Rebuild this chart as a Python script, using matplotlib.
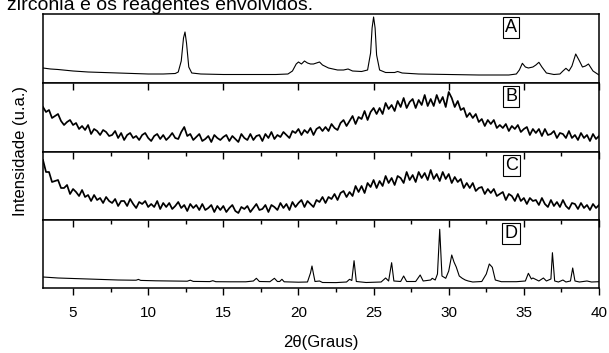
import numpy as np
import matplotlib.pyplot as plt
from matplotlib.ticker import MultipleLocator

plt.rcParams['font.family'] = ['Liberation Sans', 'DejaVu Sans']

# --- data (intensity in arbitrary units) ---
a_2theta = [3.0, 3.5, 4.0, 5.0, 6.0, 7.0, 8.0, 9.0, 10.0, 11.0, 11.8, 12.0, 12.2, 12.35,
            12.45, 12.55, 12.7, 12.9, 13.5, 15.0, 17.0, 18.5, 19.3, 19.6, 19.85, 20.0,
            20.2, 20.4, 20.6, 20.8, 21.0, 21.2, 21.4, 21.6, 22.0, 22.6, 23.0, 23.3, 23.6,
            24.2, 24.6, 24.8, 24.9, 25.0, 25.1, 25.2, 25.4, 25.8, 26.4, 26.6, 26.9, 28.0,
            30.0, 32.0, 34.0, 34.5, 34.7, 34.9, 35.1, 35.3, 35.6, 35.8, 36.0, 36.2, 36.5,
            37.0, 37.4, 37.6, 37.8, 38.0, 38.2, 38.45, 38.7, 38.9, 39.1, 39.3, 39.6, 40.0]
a_int = [15, 14, 13.5, 12, 11, 10.5, 10, 9.5, 9, 9, 9.5, 11, 22, 45,
         51, 40, 16, 10, 9, 8.5, 8.5, 8.5, 9, 12, 19, 21,
         19, 22, 20, 19, 19, 20, 21, 18, 15, 13, 13, 14, 12,
         11.5, 13, 30, 55, 66, 55, 28, 13, 10.5, 10.5, 11.5, 10, 9,
         8.5, 8, 8, 9, 13, 19.7, 16, 15, 16, 18, 20.7, 16, 10,
         8.5, 9, 12, 14.7, 12, 17, 29, 22, 16, 17, 19, 12, 8]

# B and C: sampled every 0.2 degree from 3 to 40
b_int = [45, 40, 42, 34, 36, 38, 31, 27, 30, 32, 27, 29, 23, 26, 22, 27, 18, 23, 21, 17,
         22, 20, 16, 17, 21, 14, 19, 12, 17, 19, 14, 16, 12, 17, 19, 14, 11, 16, 18, 13,
         17, 12, 15, 19, 14, 13, 20, 25, 16, 18, 12, 15, 18, 11, 13, 16, 10, 17, 14, 12,
         15, 17, 11, 16, 13, 10, 18, 14, 12, 18, 12, 16, 17, 11, 18, 14, 20, 13, 17, 15,
         20, 17, 14, 21, 19, 23, 17, 22, 19, 24, 17, 23, 25, 21, 25, 21, 28, 24, 22, 29,
         32, 26, 31, 36, 28, 35, 33, 41, 32, 40, 44, 38, 44, 38, 49, 43, 47, 41, 51, 45,
         54, 44, 50, 53, 44, 52, 47, 57, 46, 53, 46, 57, 49, 55, 45, 60, 54, 45, 51, 42,
         44, 35, 39, 34, 38, 30, 33, 26, 32, 28, 32, 24, 27, 24, 28, 21, 26, 23, 27, 20,
         23, 25, 17, 23, 19, 23, 16, 23, 17, 18, 21, 14, 19, 18, 14, 21, 14, 17, 12, 19,
         14, 17, 11, 18, 13, 16]
c_int = [60, 48, 48, 38, 39, 40, 32, 32, 35, 26, 31, 28, 24, 30, 23, 25, 19, 25, 20, 22,
         17, 23, 19, 17, 21, 14, 19, 19, 14, 21, 16, 12, 18, 16, 19, 13, 16, 13, 19, 11,
         17, 13, 17, 11, 14, 18, 12, 15, 9, 16, 12, 15, 10, 16, 10, 12, 15, 8, 14, 10,
         14, 8, 12, 15, 9, 7, 13, 11, 14, 8, 12, 16, 10, 11, 15, 8, 15, 13, 10, 17,
         12, 16, 10, 18, 13, 17, 20, 13, 19, 16, 13, 20, 18, 23, 17, 23, 21, 26, 20, 27,
         29, 23, 28, 24, 34, 28, 34, 27, 37, 33, 40, 32, 39, 34, 44, 37, 42, 35, 44, 42,
         37, 48, 40, 45, 38, 48, 42, 47, 40, 50, 41, 46, 39, 48, 41, 46, 37, 43, 38, 41,
         32, 37, 32, 37, 29, 32, 33, 26, 31, 27, 31, 24, 26, 28, 20, 26, 24, 19, 26, 19,
         22, 16, 22, 19, 20, 15, 22, 16, 13, 20, 14, 18, 13, 20, 14, 11, 17, 16, 11, 17,
         12, 15, 10, 16, 12, 15]

d_2theta = [3.0, 4.0, 5.0, 6.0, 7.0, 8.0, 9.0, 9.2, 9.35, 9.5, 10.5, 11.5, 12.6, 12.8,
            13.0, 14.1, 14.3, 14.5, 15.5, 16.5, 17.0, 17.2, 17.4, 18.1, 18.4, 18.6, 18.75,
            18.9, 19.05, 20.0, 20.6, 20.8, 20.9, 21.0, 21.1, 21.4, 21.6, 22.5, 23.2, 23.4,
            23.55, 23.7, 23.85, 24.5, 25.5, 25.8, 26.0, 26.2, 26.35, 26.8, 27.0, 27.2, 27.8,
            28.1, 28.3, 28.8, 28.9, 29.1, 29.25, 29.4, 29.55, 29.8, 30.0, 30.2, 30.35, 30.5,
            30.7, 30.9, 31.1, 31.3, 31.6, 32.2, 32.5, 32.7, 32.9, 33.1, 33.5, 34.5, 35.1,
            35.3, 35.5, 35.6, 36.0, 36.3, 36.5, 36.8, 36.9, 37.05, 37.3, 37.6, 37.8, 38.1,
            38.25, 38.4, 38.7, 39.2, 39.5, 40.0]
d_int = [11, 10, 9.5, 9, 8.5, 8, 7.8, 7.8, 8.6, 7.6, 7.2, 7, 6.8, 7.8,
         6.6, 6.4, 7.3, 6.3, 6.2, 6.2, 7, 9.7, 6.5, 6.3, 9.7, 6.5, 6.5,
         8.7, 6.2, 5.8, 6, 15, 22, 14, 6.5, 7, 5.5, 5.4, 6, 8.7,
         7.5, 27.3, 6.5, 5.5, 6, 10, 7, 25.3, 7, 6.5, 12, 6.5, 6.5,
         13, 7, 8, 9.7, 8, 14, 58.7, 12, 9.7, 17, 33, 26, 21,
         12, 9.7, 8, 7, 6, 6.5, 14, 24, 20.7, 8, 6.3, 6.3, 7,
         14.7, 9, 10, 7, 10, 7, 9, 35.3, 7, 6, 8, 6, 7,
         20, 7, 6, 7, 6, 6.3]

labels = ["A", "B", "C", "D"]
x_ticks = [5, 10, 15, 20, 25, 30, 35, 40]

b_2theta = np.linspace(3, 40, len(b_int))
c_2theta = np.linspace(3, 40, len(c_int))

series = [
    (a_2theta, a_int, 0.8),
    (b_2theta, b_int, 1.25),
    (c_2theta, c_int, 1.25),
    (d_2theta, d_int, 0.8),
]

W, H = 609, 353
fig = plt.figure(figsize=(W / 100, H / 100), dpi=100)

left, right = 43, 599
edges = [14, 83, 152, 220, 288]

for i, (xs, ys, lw) in enumerate(series):
    top, bot = edges[i], edges[i + 1]
    ax = fig.add_axes([left / W, 1 - bot / H, (right - left) / W, (bot - top) / H])
    ax.plot(xs, ys, color="black", lw=lw)
    ax.set_xlim(3, 40)
    ax.set_ylim(0, bot - top)
    ax.set_yticks([])
    for s in ax.spines.values():
        s.set_linewidth(1.1)

    ax.xaxis.set_major_locator(MultipleLocator(5))
    ax.xaxis.set_minor_locator(MultipleLocator(2.5))
    if i == 3:
        ax.tick_params(axis="x", which="major", direction="out", length=5, width=1.0,
                       top=True, bottom=True, labelsize=11, pad=8)
        ax.tick_params(axis="x", which="minor", direction="out", length=3, width=1.0,
                       top=True, bottom=True)
        ax.set_xticks(x_ticks)
        ax.set_xticklabels([str(t) for t in x_ticks])
        # top ticks point into the panel
        for tk in ax.xaxis.get_major_ticks():
            tk.tick2line.set_marker(3)
            tk.tick2line.set_markersize(5)
        for tk in ax.xaxis.get_minor_ticks():
            tk.tick2line.set_marker(3)
            tk.tick2line.set_markersize(3)
    else:
        ax.tick_params(axis="x", which="both", bottom=False, labelbottom=False)
        if i == 0:
            ax.tick_params(axis="x", which="both", top=False)
        elif i == 1:
            ax.tick_params(axis="x", which="major", top=True, direction="in",
                           length=5, width=1.0)
            ax.tick_params(axis="x", which="minor", top=False)
        else:
            ax.tick_params(axis="x", which="major", top=True, direction="in",
                           length=5, width=1.0)
            ax.tick_params(axis="x", which="minor", top=True, direction="in",
                           length=3, width=1.0)

    ax.text(0.842, 0.93, labels[i], transform=ax.transAxes, ha="center", va="top",
            fontsize=13, bbox=dict(boxstyle="square,pad=0.12", fc="white", ec="black", lw=0.8))

fig.text(7 / W, 1 - 10 / H, "zircônia e os reagentes envolvidos.", fontsize=14,
         ha="left", va="baseline")
fig.text(21 / W, 1 - 151 / H, "Intensidade (u.a.)", rotation=90, fontsize=12,
         ha="center", va="center")
fig.text(321 / W, 1 - 343 / H, "2θ(Graus)", fontsize=12, ha="center", va="center")

fig.savefig("out.png", dpi=100)
